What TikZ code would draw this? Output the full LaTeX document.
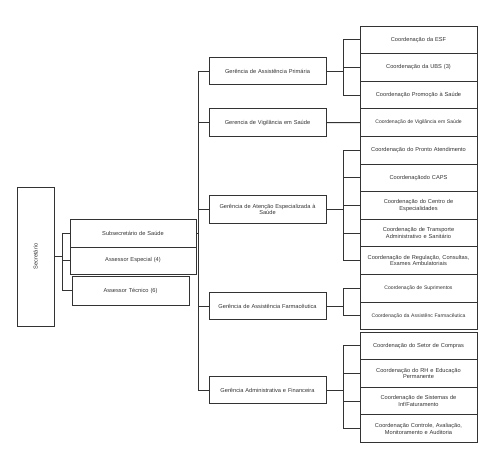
\documentclass[tikz,border=0pt]{standalone}
\usepackage{fontspec}
\setmainfont{Liberation Sans}
\usepackage{xcolor}
\usetikzlibrary{positioning}

\definecolor{ink}{gray}{0.2}

\tikzset{
  orgbox/.style={draw=ink, line width=0.9pt, rectangle, outer sep=0pt, inner sep=1pt,
    minimum width=117bp, minimum height=27.6bp, align=center, text width=114bp,
    text=ink, font=\fontsize{5.7}{6.6}\selectfont},
  smalltxt/.style={font=\fontsize{5.1}{6}\selectfont},
  link/.style={draw=ink, line width=0.9pt}
}

\begin{document}
\begin{tikzpicture}[x=1bp, y=-1bp]
            \useasboundingbox (0,0) rectangle (499,458);

            % secretario e assessores
            \node[orgbox, minimum width=37bp, minimum height=139bp, text width=30bp] (sec) at (35.5, 256.5) {\rotatebox{90}{Secretário}};
            \node[orgbox, minimum width=126bp, minimum height=28bp] (sub) at (133, 233) {Subsecretário de Saúde};
            \node[orgbox, minimum width=126bp, minimum height=27bp] (esp) at (133, 260.5) {Assessor Especial (4)};
            \node[orgbox, minimum height=29bp] (tec) at (130.5, 290.5) {Assessor Técnico (6)};

            % gerencias
            \node[orgbox] (g1) at (267.5, 71) {Gerência de Assistência Primária};
            \node[orgbox] (g2) at (267.5, 122.6) {Gerencia de Vigilância em Saúde};
            \node[orgbox] (g3) at (267.5, 209.5) {Gerência de Atenção Especializada à\\Saúde};
            \node[orgbox] (g4) at (267.5, 306) {Gerência de Assistência Farmacêutica};
            \node[orgbox] (g5) at (267.5, 390) {Gerência Administrativa e Financeira};

            % coordenacoes
            \node[orgbox] (c1) at (418.5, 39.8) {Coordenação da ESF};
            \node[orgbox, below=0pt of c1] (c2) {Coordenação da UBS (3)};
            \node[orgbox, below=0pt of c2] (c3) {Coordenação Promoção à Saúde};
            \node[orgbox, smalltxt, below=0pt of c3] (c4) {Coordenação de Vigilância em Saúde};
            \node[orgbox, below=0pt of c4] (c5) {Coordenação do Pronto Atendimento};
            \node[orgbox, below=0pt of c5] (c6) {Coordenaçãodo CAPS};
            \node[orgbox, below=0pt of c6] (c7) {Coordenação do Centro de\\Especialidades};
            \node[orgbox, below=0pt of c7] (c8) {Coordenação de Transporte\\Administrativo e Sanitário};
            \node[orgbox, below=0pt of c8] (c9) {Coordenação de Regulação, Consultas,\\Exames Ambulatoriais};
            \node[orgbox, smalltxt, below=0pt of c9] (c10) {Coordenação de Suprimentos};
            \node[orgbox, smalltxt, below=0pt of c10] (c11) {Coordenação da Assistênc Farmacêutica};
            \node[orgbox] (c12) at (418.5, 345.9) {Coordenação do Setor de Compras};
            \node[orgbox, below=0pt of c12] (c13) {Coordenação do RH e Educação\\Permanente};
            \node[orgbox, below=0pt of c13] (c14) {Coordenação de Sistemas de\\Inf/Faturamento};
            \node[orgbox, below=0pt of c14] (c15) {Coordenação Controle, Avaliação,\\Monitoramento e Auditoria};

            % pontos de juncao
            \coordinate (ja) at (62, 256.5);
            \coordinate (jb) at (198, 233);
            \coordinate (jc) at (343, 71);

            \draw[link] (sec.east) -- (ja); % sec-ja
            \draw[link] (ja |- sub.west) -- (ja |- tec.west); % ja vertical
            \draw[link] (ja |- sub.west) -- (sub.west); % ja-sub
            \draw[link] (ja |- esp.west) -- (esp.west); % ja-esp
            \draw[link] (ja |- tec.west) -- (tec.west); % ja-tec

            \draw[link] (sub.east) -- (jb); % sub-jb
            \draw[link] (jb |- g1.west) -- (jb |- g5.west); % tronco
            \draw[link] (jb |- g1.west) -- (g1.west); % jb-g1
            \draw[link] (jb |- g2.west) -- (g2.west); % jb-g2
            \draw[link] (jb |- g3.west) -- (g3.west); % jb-g3
            \draw[link] (jb |- g4.west) -- (g4.west); % jb-g4
            \draw[link] (jb |- g5.west) -- (g5.west); % jb-g5

            \draw[link] (g1.east) -- (jc |- g1.east); % g1-jc
            \draw[link] (jc |- c1.west) -- (jc |- c3.west); % g1 ramo
            \draw[link] (jc |- c1.west) -- (c1.west); % c1
            \draw[link] (jc |- c2.west) -- (c2.west); % c2
            \draw[link] (jc |- c3.west) -- (c3.west); % c3

            \draw[link] (g2.east) -- (c4.west); % g2-c4

            \draw[link] (g3.east) -- (jc |- g3.east); % g3-jc
            \draw[link] (jc |- c5.west) -- (jc |- c9.west); % g3 ramo
            \draw[link] (jc |- c5.west) -- (c5.west); % c5
            \draw[link] (jc |- c6.west) -- (c6.west); % c6
            \draw[link] (jc |- c7.west) -- (c7.west); % c7
            \draw[link] (jc |- c8.west) -- (c8.west); % c8
            \draw[link] (jc |- c9.west) -- (c9.west); % c9

            \draw[link] (g4.east) -- (jc |- g4.east); % g4-jc
            \draw[link] (jc |- c10.west) -- (jc |- c11.west); % g4 ramo
            \draw[link] (jc |- c10.west) -- (c10.west); % c10
            \draw[link] (jc |- c11.west) -- (c11.west); % c11

            \draw[link] (g5.east) -- (jc |- g5.east); % g5-jc
            \draw[link] (jc |- c12.west) -- (jc |- c15.west); % g5 ramo
            \draw[link] (jc |- c12.west) -- (c12.west); % c12
            \draw[link] (jc |- c13.west) -- (c13.west); % c13
            \draw[link] (jc |- c14.west) -- (c14.west); % c14
            \draw[link] (jc |- c15.west) -- (c15.west); % c15
\end{tikzpicture}
\end{document}
